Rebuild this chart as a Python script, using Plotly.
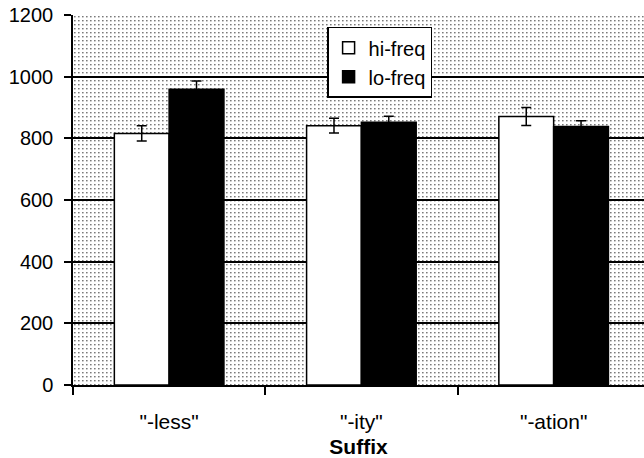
import base64
import plotly.graph_objects as go

categories = ['"-less"', '"-ity"', '"-ation"']
hi_freq = [816, 841, 871]
hi_err = [25, 24, 29]
lo_freq = [959, 852, 838]
lo_err = [27, 20, 19]
y_ticks = [0, 200, 400, 600, 800, 1000, 1200]

# stippled background texture (decoration only)
svg = (
    '<svg xmlns="http://www.w3.org/2000/svg" width="571" height="370">'
    '<defs><pattern id="p" width="4" height="4" patternUnits="userSpaceOnUse">'
    '<rect x="1" y="1" width="1.6" height="1.4" fill="#7a7a7a"/></pattern></defs>'
    '<rect width="571" height="370" fill="white"/>'
    '<rect width="571" height="370" fill="url(#p)"/></svg>'
)
img = "data:image/svg+xml;base64," + base64.b64encode(svg.encode()).decode()

font = "Arial, Liberation Sans, sans-serif"

fig = go.Figure()
fig.add_trace(go.Bar(
    x=categories, y=hi_freq, name="hi-freq", legendgroup="a",
    marker=dict(color="white", line=dict(color="black", width=1.5)),
    error_y=dict(type="data", array=hi_err, color="black", thickness=1.5, width=5),
))
fig.add_trace(go.Bar(
    x=categories, y=lo_freq, name="lo-freq", legendgroup="b",
    marker=dict(color="black", line=dict(color="black", width=1.5)),
    error_y=dict(type="data", array=lo_err, color="black", thickness=1.5, width=5),
))

fig.update_layout(
    width=644, height=458,
    margin=dict(l=73, r=0, t=15, b=73),
    paper_bgcolor="white", plot_bgcolor="rgba(0,0,0,0)",
    font=dict(family=font, size=21, color="black"),
    barmode="group", bargap=0.43, bargroupgap=0,
    showlegend=True,
    legend=dict(
        x=0.445, y=0.968, xanchor="left", yanchor="top",
        bgcolor="white", bordercolor="black", borderwidth=1.5,
        font=dict(family=font, size=20), traceorder="grouped", tracegroupgap=0,
        itemwidth=30,
    ),
    images=[dict(source=img, xref="paper", yref="paper", x=0, y=1,
                 sizex=1, sizey=1, sizing="stretch", layer="below",
                 xanchor="left", yanchor="top")],
)
fig.update_xaxes(
    range=[-0.5, 2.47], showline=True, linecolor="black", linewidth=1.5,
    ticks="outside", tickson="boundaries", ticklen=8, tickcolor="black", tickwidth=1.5,
    ticklabelstandoff=17, automargin=False,
    title=dict(text="<b>Suffix</b>", font=dict(family=font, size=21), standoff=9),
    showgrid=False,
)
fig.update_yaxes(
    range=[0, 1200], tickvals=y_ticks, showline=True, linecolor="black", linewidth=1.5,
    ticks="outside", ticklen=7, tickcolor="black", tickwidth=1.5,
    tickfont=dict(family=font, size=20),
    showgrid=True, gridcolor="black", gridwidth=1.5, zeroline=False,
    ticklabelstandoff=7, automargin=False, ticklabeloverflow="allow",
)

fig.write_html(
    "out.html",
    config={"displayModeBar": False},
    post_script="document.body.style.margin='0';document.body.style.overflow='hidden';",
)
